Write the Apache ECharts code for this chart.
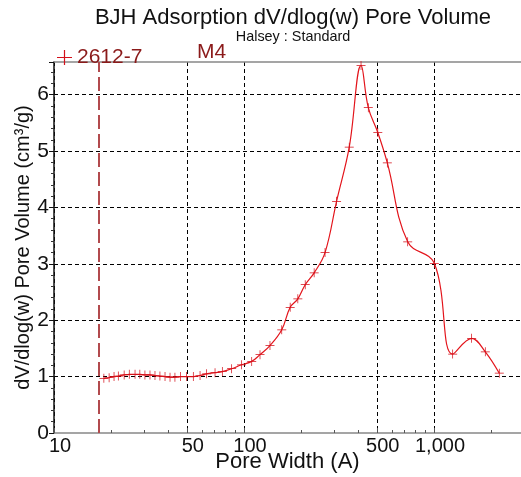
<!DOCTYPE html>
<html>
<head>
<meta charset="utf-8">
<script src="https://cdn.jsdelivr.net/npm/echarts@6/dist/echarts.min.js"></script>
<style>
html,body{margin:0;padding:0;background:#fff;}
#chart{width:521px;height:477px;}
</style>
</head>
<body>
<div id="chart"></div>
<script>
// Pore width (Å)
const poreWidths = [18.3, 19.5, 20.7, 21.8, 23.4, 24.9, 26.7, 28.3, 30.1, 32.0, 34.0, 36.1, 38.4, 40.8, 43.3, 46.4, 49.9, 54.1, 58.7, 63.6, 70.4, 76.9, 86.1, 97.0, 109.8, 121.4, 137, 158, 175, 192, 210, 234, 267, 307, 358, 413, 451, 506, 568, 727, 1004, 1254, 1578, 1862, 2206];
// dV/dlog(w) pore volume (cm³/g)
const poreVolumes = [0.97, 0.98, 1.00, 1.01, 1.03, 1.04, 1.04, 1.04, 1.03, 1.03, 1.02, 1.01, 1.00, 0.99, 0.99, 1.00, 1.00, 1.00, 1.02, 1.05, 1.07, 1.09, 1.14, 1.21, 1.27, 1.39, 1.55, 1.83, 2.23, 2.38, 2.63, 2.84, 3.20, 4.11, 5.07, 6.52, 5.77, 5.33, 4.79, 3.39, 3.01, 1.40, 1.68, 1.44, 1.06];
const cutoffWidth = 17.2;
const xMajorTicks = [10, 50, 100, 500, 1000];
const xMinorTicks = [20, 30, 40, 60, 70, 80, 90, 200, 300, 400, 600, 700, 800, 900, 2000];
const yTickInterval = 1;

const FONT = 'Liberation Sans, Arial, sans-serif';
const plus = 'path://M4.6,0H5.4V4.6H10V5.4H5.4V10H4.6V5.4H0V4.6H4.6Z';

const chart = echarts.init(document.getElementById('chart'));
const seriesData = poreWidths.map((w, i) => [w, poreVolumes[i]]);
const xMin = 10, xMax = 2870;

chart.setOption({
  animation: false,
  backgroundColor: '#fff',
  title: {
    text: 'BJH Adsorption dV/dlog(w) Pore Volume',
    subtext: 'Halsey : Standard',
    left: 288, top: 2, textAlign: 'center', itemGap: 1,
    textStyle: {fontFamily: FONT, fontSize: 22, fontWeight: 'normal', color: '#111'},
    subtextStyle: {fontFamily: FONT, fontSize: 14.4, color: '#111'}
  },
  legend: {
    left: 52, top: 42, itemWidth: 15, itemHeight: 15, itemGap: 4,
    data: [{name: '2612-7', icon: plus}],
    textStyle: {fontFamily: FONT, fontSize: 21, color: '#8b1a1a'}
  },
  graphic: [{
    type: 'text', left: 197, top: 42,
    style: {text: 'M4', font: '21px ' + FONT, fill: '#8b1a1a'}
  }],
  grid: {left: 54, right: 0, top: 62, bottom: 44, containLabel: false, outerBoundsMode: 'none'},
  xAxis: [
    {
      type: 'log', logBase: 10, min: xMin, max: xMax, position: 'bottom',
      name: 'Pore Width (A)', nameLocation: 'middle', nameGap: 18, nameMoveOverlap: false,
      nameTextStyle: {fontFamily: FONT, fontSize: 22, color: '#111'},
      axisLine: {show: true, lineStyle: {color: '#888', width: 1.5}},
      axisTick: {show: true, inside: true, length: 5, customValues: xMajorTicks, lineStyle: {color: '#555'}},
      axisLabel: {show: true, customValues: xMajorTicks, margin: 3, fontFamily: FONT, fontSize: 20, color: '#111',
        padding: [0, 0, 0, 12],
        formatter: v => Number(v).toLocaleString('en-US')},
      splitLine: {show: true, lineStyle: {color: '#000', type: [4, 3], width: 1}},
      minorTick: {show: false}
    },
    {
      type: 'log', logBase: 10, min: xMin, max: xMax, position: 'bottom',
      axisLine: {show: false},
      axisTick: {show: true, inside: true, length: 3, customValues: xMinorTicks, lineStyle: {color: '#555'}},
      axisLabel: {show: false},
      splitLine: {show: false}
    },
    {
      type: 'log', logBase: 10, min: xMin, max: xMax, position: 'top',
      axisLine: {show: true, lineStyle: {color: '#888', width: 1.5}},
      axisTick: {show: false}, axisLabel: {show: false}, splitLine: {show: false}
    }
  ],
  yAxis: {
    type: 'value', min: 0, max: 6.58, interval: yTickInterval,
    name: 'dV/dlog(w) Pore Volume (cm³/g)', nameLocation: 'middle', nameGap: 21, nameRotate: 90,
    nameMoveOverlap: false,
    nameTextStyle: {fontFamily: FONT, fontSize: 20, color: '#111'},
    axisLine: {show: true, lineStyle: {color: '#111', width: 1.5}},
    axisTick: {show: true, inside: false, length: 5, lineStyle: {color: '#111'}},
    minorTick: {show: true, splitNumber: 5, length: 3, lineStyle: {color: '#333'}},
    axisLabel: {show: true, margin: 5, fontFamily: FONT, fontSize: 21, color: '#111', showMaxLabel: false},
    splitLine: {show: true, showMinLine: false, showMaxLine: false, lineStyle: {color: '#000', type: [4, 3], width: 1}}
  },
  series: [{
    name: '2612-7', type: 'line', xAxisIndex: 0, data: seriesData,
    smooth: 0.4,
    symbol: plus, symbolSize: 9, showSymbol: true,
    lineStyle: {color: '#e3141b', width: 1.2},
    itemStyle: {color: '#d4101a'},
    z: 5,
    markLine: {
      silent: true, symbol: 'none', label: {show: false},
      lineStyle: {color: '#b24a4d', type: [14, 5], width: 2},
      data: [{xAxis: cutoffWidth}]
    }
  }]
});
</script>
</body>
</html>
